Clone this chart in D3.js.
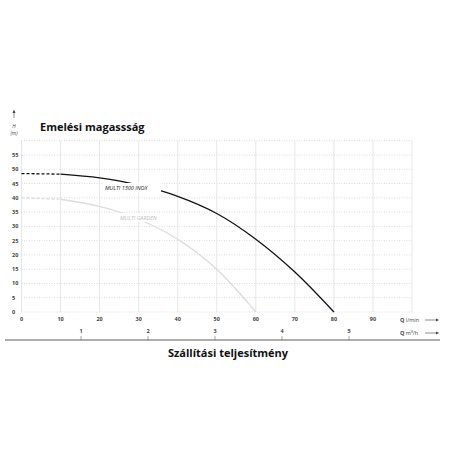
<!DOCTYPE html><html><head><meta charset="utf-8"><script src="https://cdn.jsdelivr.net/npm/d3@7"></script>
<style>body{margin:0;background:#fff}text{font-family:"Open Sans",sans-serif}</style></head><body><svg width="456" height="456"></svg>
<script>
const yTicks=[0,5,10,15,20,25,30,35,40,45,50,55];
const xTicks=[0,10,20,30,40,50,60,70,80,90];
const m3Ticks=[1,2,3,4,5];
const inoxQ=[0,10,20,30,40,50,60,70,80];
const inoxH=[48.5,48.3,47,44.5,40.5,34.5,25.5,14,0];
const gardenQ=[0,10,20,30,40,50,60];
const gardenH=[40,39.5,37,32.5,25.5,15,0];
const svg=d3.select("svg");
const x=d3.scaleLinear().domain([0,100]).range([21.5,412]);
const y=d3.scaleLinear().domain([0,55]).range([312,155]);
const xm=d3.scaleLinear().domain([1,5]).range([81,349]);
const g=svg.append("g");
[...yTicks,60].forEach(v=>g.append("line").attr("x1",x(0)).attr("x2",x(100)).attr("y1",y(v)).attr("y2",y(v)).attr("stroke","#ccc").attr("stroke-dasharray","1,1.5").attr("stroke-width",0.7));
[...xTicks,100].forEach(v=>g.append("line").attr("x1",x(v)).attr("x2",x(v)).attr("y1",y(0)).attr("y2",y(60)).attr("stroke","#ddd").attr("stroke-width",0.7));
yTicks.forEach(v=>svg.append("text").attr("x",12).attr("y",y(v)+2).attr("font-size",5.5).attr("font-weight","bold").attr("fill","#444").text(v));
xTicks.forEach(v=>svg.append("text").attr("x",x(v)).attr("y",321).attr("text-anchor","middle").attr("font-size",5.5).attr("font-weight","bold").attr("fill","#444").text(v));
m3Ticks.forEach(v=>{svg.append("text").attr("x",xm(v)).attr("y",333).attr("text-anchor","middle").attr("font-size",5.5).attr("font-weight","bold").attr("fill","#444").text(v);
 svg.append("line").attr("x1",xm(v)).attr("x2",xm(v)).attr("y1",336).attr("y2",340).attr("stroke","#aaa");});
svg.append("line").attr("x1",5).attr("x2",440).attr("y1",340).attr("y2",340).attr("stroke","#333").attr("stroke-width",0.8);
svg.append("text").attr("x",400).attr("y",322).attr("font-size",5.5).attr("fill","#444").html('<tspan font-weight="bold">Q</tspan> l/min');
svg.append("text").attr("x",400).attr("y",335).attr("font-size",5.5).attr("fill","#444").html('<tspan font-weight="bold">Q</tspan> m³/h');
[322-2,335-2].forEach(yy=>{svg.append("line").attr("x1",425).attr("x2",436).attr("y1",yy).attr("y2",yy).attr("stroke","#444").attr("stroke-width",0.6);
 svg.append("path").attr("d",`M436,${yy-1.5}L439,${yy}L436,${yy+1.5}Z`).attr("fill","#444");});
svg.append("text").attr("x",228).attr("y",357).attr("text-anchor","middle").attr("font-size",11).attr("font-weight","bold").attr("fill","#111").text("Szállítási teljesítmény");
svg.append("text").attr("x",40).attr("y",131).attr("font-size",11).attr("font-weight","bold").attr("fill","#111").text("Emelési magassság");
svg.append("line").attr("x1",14).attr("x2",14).attr("y1",111).attr("y2",118).attr("stroke","#444").attr("stroke-width",0.6);
svg.append("path").attr("d","M12.5,113L14,109.5L15.5,113Z").attr("fill","#444");
svg.append("text").attr("x",14).attr("y",128).attr("text-anchor","middle").attr("font-size",5).attr("font-style","italic").attr("fill","#444").text("H");
svg.append("text").attr("x",14).attr("y",135).attr("text-anchor","middle").attr("font-size",5).attr("font-style","italic").attr("fill","#444").text("(m)");
const line=d3.line().x(d=>x(d[0])).y(d=>y(d[1])).curve(d3.curveCatmullRom);
function draw(Q,H,col,w){const pts=Q.map((q,i)=>[q,H[i]]);
 svg.append("path").attr("d",line(pts.filter(p=>p[0]<=10))).attr("fill","none").attr("stroke",col).attr("stroke-width",w).attr("stroke-dasharray","3,2");
 svg.append("path").attr("d",line(pts.filter(p=>p[0]>=10))).attr("fill","none").attr("stroke",col).attr("stroke-width",w);}
draw(gardenQ,gardenH,"#dcdcdc",1.3);
draw(inoxQ,inoxH,"#111",1.3);
svg.append("rect").attr("x",103).attr("y",183).attr("width",58).attr("height",9).attr("fill","#fff");
svg.append("text").attr("x",105).attr("y",190).attr("font-size",5.5).attr("font-style","italic").attr("fill","#222").text("MULTI 1300 INOX");
svg.append("rect").attr("x",118).attr("y",213).attr("width",44).attr("height",9).attr("fill","#fff");
svg.append("text").attr("x",120).attr("y",220).attr("font-size",5.5).attr("font-style","italic").attr("fill","#bbb").text("MULTI GARDEN");
</script></body></html>
